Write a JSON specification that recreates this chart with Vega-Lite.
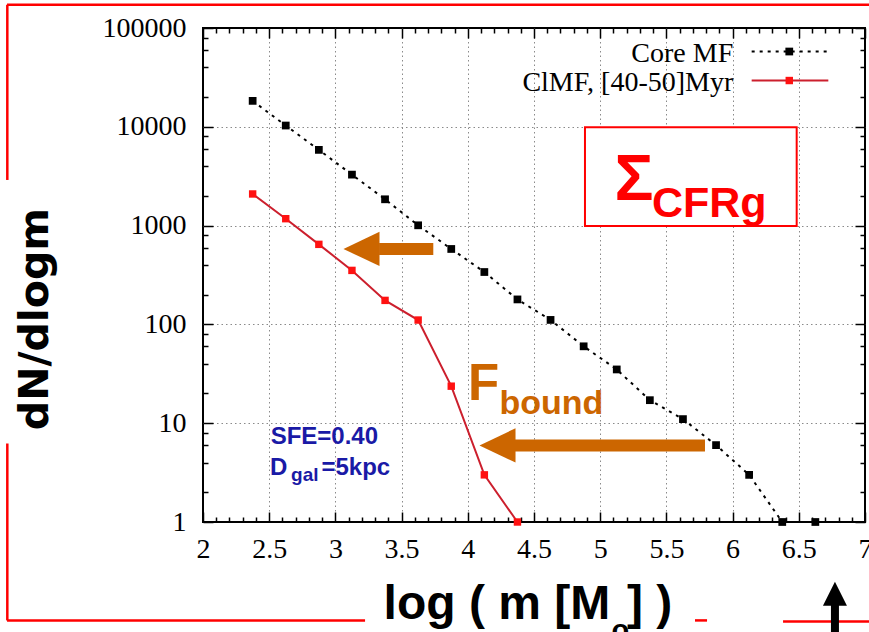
{
  "$schema": "https://vega.github.io/schema/vega-lite/v6.json",
  "width": 662,
  "height": 494,
  "autosize": {"type": "none"},
  "padding": {"left": 203, "top": 28, "right": 4, "bottom": 110},
  "background": "white",
  "config": {"view": {"stroke": "black", "strokeWidth": 2}},
  "datasets": {
    "core": [
      {"x": 2.375, "y": 18300}, {"x": 2.625, "y": 10300}, {"x": 2.875, "y": 5840},
      {"x": 3.125, "y": 3280}, {"x": 3.375, "y": 1846}, {"x": 3.625, "y": 1007},
      {"x": 3.875, "y": 580}, {"x": 4.125, "y": 339}, {"x": 4.375, "y": 179},
      {"x": 4.625, "y": 111}, {"x": 4.875, "y": 60}, {"x": 5.125, "y": 35},
      {"x": 5.375, "y": 17.1}, {"x": 5.625, "y": 11}, {"x": 5.875, "y": 6.0},
      {"x": 6.125, "y": 3.0}, {"x": 6.375, "y": 1}, {"x": 6.625, "y": 1}
    ],
    "clmf": [
      {"x": 2.375, "y": 2090}, {"x": 2.625, "y": 1175}, {"x": 2.875, "y": 646},
      {"x": 3.125, "y": 352}, {"x": 3.375, "y": 175}, {"x": 3.625, "y": 110.7},
      {"x": 3.875, "y": 23.7}, {"x": 4.125, "y": 3.0}, {"x": 4.375, "y": 1}
    ]
  },
  "encoding": {
    "x": {"field": "x", "type": "quantitative", "scale": {"domain": [2, 7], "nice": false, "zero": false}, "axis": null},
    "y": {"field": "y", "type": "quantitative", "scale": {"type": "log", "domain": [1, 100000], "nice": false}, "axis": null}
  },
  "layer": [
    {
      "data": {"name": "core"},
      "mark": {"type": "point", "opacity": 0},
      "encoding": {
        "x": {"field": "x", "type": "quantitative", "scale": {"domain": [2, 7], "nice": false, "zero": false},
          "axis": {"orient": "bottom", "title": null, "domain": false,
            "values": [2,2.1,2.2,2.3,2.4,2.5,2.6,2.7,2.8,2.9,3,3.1,3.2,3.3,3.4,3.5,3.6,3.7,3.8,3.9,4,4.1,4.2,4.3,4.4,4.5,4.6,4.7,4.8,4.9,5,5.1,5.2,5.3,5.4,5.5,5.6,5.7,5.8,5.9,6,6.1,6.2,6.3,6.4,6.5,6.6,6.7,6.8,6.9,7],
            "labelExpr": "abs(datum.value*2-round(datum.value*2))<0.001 ? format(datum.value,'~g') : ''",
            "labelFont": "Liberation Serif", "labelFontSize": 28, "labelColor": "black", "labelPadding": 23,
            "labelFlush": false, "labelOverlap": false,
            "tickColor": "black", "tickWidth": 1.5,
            "tickSize": {"condition": {"test": "abs(datum.value*2-round(datum.value*2))<0.001", "value": -10}, "value": -5},
            "grid": true, "gridColor": "#8a8a8a", "gridDash": [1.5, 3], "gridWidth": 1,
            "gridOpacity": {"condition": {"test": "abs(datum.value*2-round(datum.value*2))<0.001 && datum.value>2.01 && datum.value<6.99", "value": 1}, "value": 0}
          }},
        "y": {"field": "y", "type": "quantitative", "scale": {"type": "log", "domain": [1, 100000], "nice": false},
          "axis": {"orient": "left", "title": null, "domain": false,
            "values": [1,2,4,6,8,10,20,40,60,80,100,200,400,600,800,1000,2000,4000,6000,8000,10000,20000,40000,60000,80000,100000],
            "labelExpr": "indexof([1,10,100,1000,10000,100000], datum.value) >= 0 ? format(datum.value,'d') : ''",
            "labelFont": "Liberation Serif", "labelFontSize": 28, "labelColor": "black", "labelPadding": 27,
            "labelFlush": false, "labelOverlap": false,
            "tickColor": "black", "tickWidth": 1.5,
            "tickSize": {"condition": {"test": "indexof([1,10,100,1000,10000,100000], datum.value) >= 0", "value": -10}, "value": -5},
            "grid": true, "gridColor": "#8a8a8a", "gridDash": [1.5, 3], "gridWidth": 1,
            "gridOpacity": {"condition": {"test": "indexof([10,100,1000,10000], datum.value) >= 0", "value": 1}, "value": 0}
          }}
      }
    },
    {
      "data": {"name": "core"},
      "mark": {"type": "point", "opacity": 0},
      "encoding": {
        "x": {"field": "x", "type": "quantitative", "scale": {"domain": [2, 7], "nice": false, "zero": false},
          "axis": {"orient": "top", "title": null, "domain": false, "labels": false, "grid": false,
            "values": [2,2.1,2.2,2.3,2.4,2.5,2.6,2.7,2.8,2.9,3,3.1,3.2,3.3,3.4,3.5,3.6,3.7,3.8,3.9,4,4.1,4.2,4.3,4.4,4.5,4.6,4.7,4.8,4.9,5,5.1,5.2,5.3,5.4,5.5,5.6,5.7,5.8,5.9,6,6.1,6.2,6.3,6.4,6.5,6.6,6.7,6.8,6.9,7],
            "tickColor": "black", "tickWidth": 1.5,
            "tickSize": {"condition": {"test": "abs(datum.value*2-round(datum.value*2))<0.001", "value": -10}, "value": -5}
          }},
        "y": {"field": "y", "type": "quantitative", "scale": {"type": "log", "domain": [1, 100000], "nice": false},
          "axis": {"orient": "right", "title": null, "domain": false, "labels": false, "grid": false,
            "values": [1,2,4,6,8,10,20,40,60,80,100,200,400,600,800,1000,2000,4000,6000,8000,10000,20000,40000,60000,80000,100000],
            "tickColor": "black", "tickWidth": 1.5,
            "tickSize": {"condition": {"test": "indexof([1,10,100,1000,10000,100000], datum.value) >= 0", "value": -10}, "value": -5}
          }}
      }
    },
    {
      "data": {"name": "core"},
      "mark": {"type": "line", "color": "black", "strokeWidth": 2, "strokeDash": [3, 5]}
    },
    {
      "data": {"name": "core"},
      "mark": {"type": "square", "color": "black", "size": 60, "filled": true, "opacity": 1}
    },
    {
      "data": {"name": "clmf"},
      "mark": {"type": "line", "color": "#cc1f2d", "strokeWidth": 2}
    },
    {
      "data": {"name": "clmf"},
      "mark": {"type": "square", "color": "#ff1111", "size": 55, "filled": true, "opacity": 1}
    },
    {
      "data": {"values": [{"x": 6.144, "x2": 6.723, "y": 57800}]},
      "mark": {"type": "rule", "color": "black", "strokeWidth": 2, "strokeDash": [3, 5]},
      "encoding": {"x2": {"field": "x2"}}
    },
    {
      "data": {"values": [{"x": 6.144, "x2": 6.723, "y": 29400}]},
      "mark": {"type": "rule", "color": "#cc1f2d", "strokeWidth": 2},
      "encoding": {"x2": {"field": "x2"}}
    },
    {
      "data": {"values": [{"x": 6.428, "y": 57800}]},
      "mark": {"type": "square", "color": "black", "size": 60, "filled": true, "opacity": 1}
    },
    {
      "data": {"values": [{"x": 6.428, "y": 29400}]},
      "mark": {"type": "square", "color": "#ff1111", "size": 55, "filled": true, "opacity": 1}
    },
    {
      "data": {"values": [{"x": 6.005, "y": 45780, "label": "Core MF"}, {"x": 6.005, "y": 23270, "label": "ClMF, [40-50]Myr"}]},
      "mark": {"type": "text", "font": "Liberation Serif", "fontSize": 28, "align": "right", "baseline": "alphabetic", "color": "black"},
      "encoding": {"text": {"field": "label"}}
    },
    {
      "data": {"values": [{"x": 4.885, "x2": 6.484, "y": 9908, "y2": 990.6}]},
      "mark": {"type": "rect", "fill": "white", "stroke": "#ff0000", "strokeWidth": 2},
      "encoding": {"x2": {"field": "x2"}, "y2": {"field": "y2"}}
    },
    {
      "data": {"values": [{"x": 5.108, "y": 1816, "label": "Σ"}]},
      "mark": {"type": "text", "font": "Liberation Sans", "fontWeight": "bold", "fontSize": 65, "align": "left", "baseline": "alphabetic", "color": "#ff0000"},
      "encoding": {"text": {"field": "label"}}
    },
    {
      "data": {"values": [{"x": 5.391, "y": 1231, "label": "CFRg"}]},
      "mark": {"type": "text", "font": "Liberation Sans", "fontWeight": "bold", "fontSize": 43, "align": "left", "baseline": "alphabetic", "color": "#ff0000"},
      "encoding": {"text": {"field": "label"}}
    },
    {
      "data": {"values": [{"x": 4.0008, "y": 17.1, "label": "F"}]},
      "mark": {"type": "text", "font": "Liberation Sans", "fontWeight": "bold", "fontSize": 51, "align": "left", "baseline": "alphabetic", "color": "#cc6600"},
      "encoding": {"text": {"field": "label"}}
    },
    {
      "data": {"values": [{"x": 4.2394, "y": 12.34, "label": "bound"}]},
      "mark": {"type": "text", "font": "Liberation Sans", "fontWeight": "bold", "fontSize": 34, "align": "left", "baseline": "alphabetic", "color": "#cc6600"},
      "encoding": {"text": {"field": "label"}}
    },
    {
      "data": {"values": [{"x": 2.511, "y": 6.23, "label": "SFE=0.40"}, {"x": 2.5053, "y": 3.022, "label": "D"}, {"x": 2.895, "y": 3.022, "label": "=5kpc"}]},
      "mark": {"type": "text", "font": "Liberation Sans", "fontWeight": "bold", "fontSize": 24, "align": "left", "baseline": "alphabetic", "color": "#1a1aa6"},
      "encoding": {"text": {"field": "label"}}
    },
    {
      "data": {"values": [{"x": 2.665, "y": 2.585, "label": "gal"}]},
      "mark": {"type": "text", "font": "Liberation Sans", "fontWeight": "bold", "fontSize": 19, "align": "left", "baseline": "alphabetic", "color": "#1a1aa6"},
      "encoding": {"text": {"field": "label"}}
    },
    {
      "data": {"values": [{"x": 3.364, "y": 0.105, "label": "log ( m [M"}, {"x": 5.2024, "y": 0.105, "label": "] )"}]},
      "mark": {"type": "text", "font": "Liberation Sans", "fontWeight": "bold", "fontSize": 48, "align": "left", "baseline": "alphabetic", "color": "black"},
      "encoding": {"text": {"field": "label"}}
    },
    {
      "data": {"values": [{"x": 5.0853, "y": 0.0633, "label": "o"}]},
      "mark": {"type": "text", "font": "Liberation Sans", "fontWeight": "bold", "fontSize": 29, "align": "left", "baseline": "alphabetic", "color": "black"},
      "encoding": {"text": {"field": "label"}}
    },
    {
      "data": {"values": [{"x": 0.829, "y": 113.2, "label": "dN/dlogm"}]},
      "mark": {"type": "text", "font": "DejaVu Sans", "fontWeight": "bold", "fontSize": 41, "align": "center", "baseline": "alphabetic", "angle": 270, "color": "black"},
      "encoding": {"text": {"field": "label"}}
    },
    {
      "data": {"values": [{"x": 3.7394, "x2": 3.33, "y": 580}, {"x": 5.7915, "x2": 4.35, "y": 5.96}]},
      "mark": {"type": "rule", "color": "#cc6600", "strokeWidth": 12},
      "encoding": {"x2": {"field": "x2"}}
    },
    {
      "data": {"values": [{"x": 3.1971, "y": 580}, {"x": 4.2243, "y": 5.96}]},
      "mark": {"type": "point", "shape": "M-1,0L1,-0.95L1,0.95Z", "size": 1300, "filled": true, "color": "#cc6600", "opacity": 1, "strokeWidth": 0}
    },
    {
      "data": {"values": [{"x": 0.52, "x2": 8.6, "y": 171800, "y2": 171800}, {"x": 0.522, "x2": 0.522, "y": 171800, "y2": 2897}, {"x": 0.522, "x2": 0.522, "y": 6.23, "y2": 0.1009}, {"x": 0.52, "x2": 3.224, "y": 0.1009, "y2": 0.1009}, {"x": 5.716, "x2": 5.807, "y": 0.1009, "y2": 0.1009}, {"x": 6.381, "x2": 8.6, "y": 0.0986, "y2": 0.0986}]},
      "mark": {"type": "rule", "color": "#ff0000", "strokeWidth": 2.5},
      "encoding": {"x2": {"field": "x2"}, "y2": {"field": "y2"}}
    },
    {
      "data": {"values": [{"x": 6.773, "y": 0.07, "y2": 0.1602}]},
      "mark": {"type": "rule", "color": "black", "strokeWidth": 8},
      "encoding": {"y2": {"field": "y2"}}
    },
    {
      "data": {"values": [{"x": 6.773, "y": 0.1882}]},
      "mark": {"type": "point", "shape": "M0,-1L1,1L-1,1Z", "size": 576, "filled": true, "color": "black", "opacity": 1, "strokeWidth": 0}
    }
  ],
  "resolve": {"axis": {"x": "independent", "y": "independent"}}
}
